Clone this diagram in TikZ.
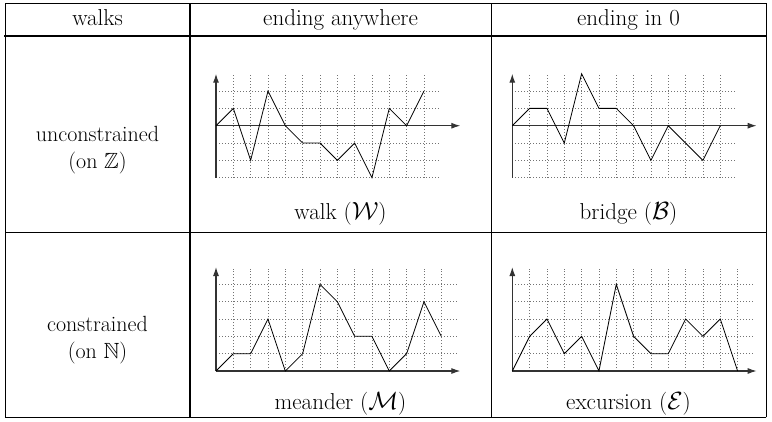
\documentclass[tikz,border=0pt]{standalone}
\usepackage{amssymb}
\usetikzlibrary{arrows.meta}
\tikzset{
  thinrule/.style={line width=0.9pt, line cap=rect},
  thickrule/.style={line width=1.9pt, line cap=rect},
  gridline/.style={black!55, line width=0.6pt, dash pattern=on 0.7pt off 2.3pt},
  axisline/.style={line width=1.1pt, black!80, -{Latex[length=9pt,width=6pt]}},
  walkline/.style={black, line width=0.8pt, line join=miter},
  lbl/.style={font=\fontsize{23}{23.5}\selectfont, inner sep=0pt, align=center},
  rowlbl/.style={font=\fontsize{22}{26.5}\selectfont, inner sep=0pt, align=center},
}
\newcommand\plotgrid[2]{%
  % #1 = number of steps n, #2 = level of x axis (0..3)
  \foreach \j in {0,...,5} {\draw[gridline] (0,\j) -- (#1+0.9,\j);}
  \foreach \i in {1,...,#1} {\draw[gridline] (\i,0) -- (\i,5.9);}
  \draw[axisline] (0,#2) -- (14.1,#2);
  \draw[axisline] (0,0) -- (0,6);
}
\begin{document}
\begin{tikzpicture}[x=1pt,y=-1pt]
\useasboundingbox (0,0) rectangle (772,421);
\fill[white] (0,0) rectangle (772,421);
% table rules
\draw[thinrule] (5,3.5) -- (766,3.5);
\draw[thickrule] (5,36) -- (766,36);
\draw[thinrule] (5,232) -- (766,232);
\draw[thinrule] (5,417) -- (766,417);
\draw[thinrule] (5,3.5) -- (5,417);
\draw[thickrule] (190,3.5) -- (190,417);
\draw[thinrule] (491,3.5) -- (491,417);
\draw[thinrule] (766,3.5) -- (766,417);
% header
\node[lbl, anchor=base] (hwalks) at (97.5,25) {walks};
\node[lbl, anchor=base] (hany) at (340.5,25) {ending anywhere};
\node[lbl, anchor=base] (hzero) at (628.5,25) {ending in 0};
% row labels
\node[rowlbl] (unc) at (97.5,150) {unconstrained\\(on $\mathbb{Z}$)};
\node[rowlbl] (con) at (97.5,340) {constrained\\(on $\mathbb{N}$)};
% captions
\node[lbl, anchor=base] (cw) at (340.5,219) {walk ($\mathcal{W}$)};
\node[lbl, anchor=base] (cb) at (628.5,219) {bridge ($\mathcal{B}$)};
\node[lbl, anchor=base] (cm) at (340.5,409) {meander ($\mathcal{M}$)};
\node[lbl, anchor=base] (ce) at (628.5,409) {excursion ($\mathcal{E}$)};
% walk W
\begin{scope}[shift={(216pt,-177.7pt)}, x=17.33pt, y=17.33pt]
  \plotgrid{12}{3}
  \draw[walkline] (0,3) -- (1,4) -- (2,1) -- (3,5) -- (4,3) -- (5,2) -- (6,2)
    -- (7,1) -- (8,2) -- (9,0) -- (10,4) -- (11,3) -- (12,5);
\end{scope}
% bridge B
\begin{scope}[shift={(512.3pt,-177.7pt)}, x=17.33pt, y=17.33pt]
  \plotgrid{12}{3}
  \draw[walkline] (0,3) -- (1,4) -- (2,4) -- (3,2) -- (4,6) -- (5,4) -- (6,4)
    -- (7,3) -- (8,1) -- (9,3) -- (10,2) -- (11,1) -- (12,3);
\end{scope}
% meander M
\begin{scope}[shift={(216pt,-371pt)}, x=17.33pt, y=17.33pt]
  \plotgrid{13}{0}
  \draw[walkline] (0,0) -- (1,1) -- (2,1) -- (3,3) -- (4,0) -- (5,1) -- (6,5)
    -- (7,4) -- (8,2) -- (9,2) -- (10,0) -- (11,1) -- (12,4) -- (13,2);
\end{scope}
% excursion E
\begin{scope}[shift={(512.3pt,-371pt)}, x=17.33pt, y=17.33pt]
  \plotgrid{13}{0}
  \draw[walkline] (0,0) -- (1,2) -- (2,3) -- (3,1) -- (4,2) -- (5,0) -- (6,5)
    -- (7,2) -- (8,1) -- (9,1) -- (10,3) -- (11,2) -- (12,3) -- (13,0);
\end{scope}
\end{tikzpicture}
\end{document}
